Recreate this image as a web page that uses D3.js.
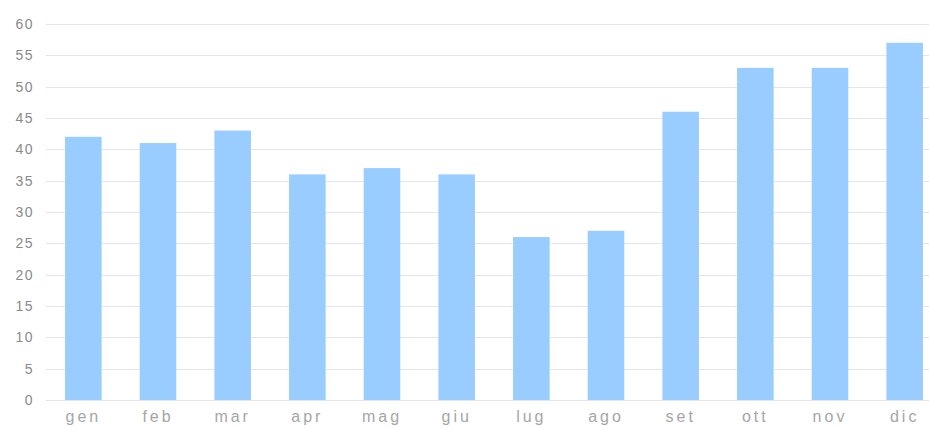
<!DOCTYPE html>
<html>
<head>
<meta charset="utf-8">
<script src="https://cdn.jsdelivr.net/npm/d3@7"></script>
<style>
  body { margin: 0; background: #fff; }
  .tick text { font-family: "Liberation Sans", Arial, sans-serif; }
</style>
</head>
<body>
<div id="chart"></div>
<script>
// months and monthly values
const months = ['gen', 'feb', 'mar', 'apr', 'mag', 'giu', 'lug', 'ago', 'set', 'ott', 'nov', 'dic'];
const values = [42, 41, 43, 36, 37, 36, 26, 27, 46, 53, 53, 57];
const yTicks = [0, 5, 10, 15, 20, 25, 30, 35, 40, 45, 50, 55, 60];

const width = 929, height = 428;

const svg = d3.select('#chart').append('svg')
    .attr('width', width)
    .attr('height', height);

const xScale = d3.scaleBand()
    .domain(months)
    .range([46, 942])
    .paddingInner(0.51)
    .paddingOuter(0.255);

const yScale = d3.scaleLinear()
    .domain([0, 60])
    .range([400, 24]);

// gridlines
svg.append('g')
    .selectAll('line')
    .data(yTicks)
    .join('line')
    .attr('x1', 46)
    .attr('x2', width)
    .attr('y1', d => Math.round(yScale(d)) + 0.5)
    .attr('y2', d => Math.round(yScale(d)) + 0.5)
    .attr('stroke', '#e6e6e6')
    .attr('stroke-width', 1);

// bars
svg.append('g')
    .selectAll('rect')
    .data(values)
    .join('rect')
    .attr('x', (d, i) => xScale(months[i]))
    .attr('width', xScale.bandwidth())
    .attr('y', d => yScale(d))
    .attr('height', d => yScale(0) - yScale(d))
    .attr('fill', '#99ccff');

// y axis
const yAxisG = svg.append('g')
    .attr('transform', 'translate(40,0)')
    .call(d3.axisLeft(yScale).tickValues(yTicks).tickSize(0).tickPadding(6));
yAxisG.select('.domain').remove();
yAxisG.selectAll('.tick text')
    .attr('fill', '#8a8a8a')
    .style('font-size', '14px')
    .style('letter-spacing', '1.5px');

// x axis
const xAxisG = svg.append('g')
    .attr('transform', 'translate(0,400)')
    .call(d3.axisBottom(xScale).tickSize(0).tickPadding(11));
xAxisG.select('.domain').remove();
xAxisG.selectAll('.tick text')
    .attr('fill', '#a6a6a6')
    .style('font-size', '16px')
    .style('letter-spacing', '3px');
</script>
</body>
</html>
